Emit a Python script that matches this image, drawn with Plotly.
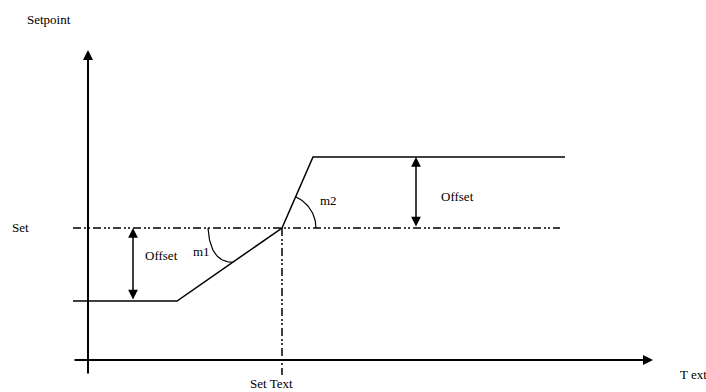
import numpy as np
import plotly.graph_objects as go

# ---- diagram data (canvas units, y measured upward) ----
t_ext = [73, 177, 282, 313, 565]          # outdoor temperature breakpoints
setpoint = [91, 91, 164, 235, 235]        # resulting setpoint
set_value = 164                            # "Set"
set_text = 282                             # "Set Text"
offset_low = [91, 164]
offset_high = [164, 235]

# ---- layout constants ----
W, H = 706, 392
FONT = dict(family="'Liberation Serif', 'DejaVu Serif', serif", size=13, color="black")
DASHDOT = "8px,3px,2px,2px,2px,3px"
origin_x, origin_y = 88, 32

fig = go.Figure()

# setpoint curve
fig.add_trace(go.Scatter(x=t_ext, y=setpoint, mode="lines",
                         line=dict(color="black", width=1.5), hoverinfo="skip"))

# Set horizontal dash-dot line
fig.add_trace(go.Scatter(x=[t_ext[0], 560], y=[set_value, set_value], mode="lines",
                         line=dict(color="black", width=1.5, dash=DASHDOT), hoverinfo="skip"))
# Set Text vertical dash-dot line
fig.add_trace(go.Scatter(x=[set_text, set_text], y=[set_value, 17], mode="lines",
                         line=dict(color="black", width=1.5, dash=DASHDOT), hoverinfo="skip"))

# m1 arc (bezier between the Set line and the lower slope)
r1_start, r1_end = 74, 60
ang1 = np.arctan2(setpoint[1] - setpoint[2], t_ext[1] - t_ext[2])
p0 = np.array([set_text - r1_start, set_value])
p2 = np.array([set_text + r1_end * np.cos(ang1), set_value + r1_end * np.sin(ang1)])
p1 = np.array([p0[0] + 2, p2[1]])
t = np.linspace(0, 1, 40)[:, None]
arc1 = (1 - t) ** 2 * p0 + 2 * t * (1 - t) * p1 + t ** 2 * p2
fig.add_trace(go.Scatter(x=arc1[:, 0], y=arc1[:, 1], mode="lines",
                         line=dict(color="black", width=1.2), hoverinfo="skip"))

# m2 arc (circle around the Set point)
r2 = 34
ang2 = np.arctan2(setpoint[3] - setpoint[2], t_ext[3] - t_ext[2])
a = np.linspace(0, ang2, 40)
fig.add_trace(go.Scatter(x=set_text + r2 * np.cos(a), y=set_value + r2 * np.sin(a), mode="lines",
                         line=dict(color="black", width=1.2), hoverinfo="skip"))

ann = []
# axes with arrows
ann.append(dict(x=origin_x, y=342, ax=origin_x, ay=17, xref="x", yref="y", axref="x", ayref="y",
                showarrow=True, arrowhead=2, arrowwidth=2, arrowsize=1, arrowcolor="black", text=""))
ann.append(dict(x=653, y=origin_y, ax=t_ext[0], ay=origin_y, xref="x", yref="y", axref="x", ayref="y",
                showarrow=True, arrowhead=2, arrowwidth=2, arrowsize=1, arrowcolor="black", text=""))
# offset double arrows
for xa, (y0, y1) in [(133, offset_low), (416, offset_high)]:
    ann.append(dict(x=xa, y=y1, ax=xa, ay=y0, xref="x", yref="y", axref="x", ayref="y",
                    showarrow=True, arrowhead=2, startarrowhead=2, arrowside="end+start",
                    arrowwidth=1.5, arrowsize=1.3, startarrowsize=1.3, arrowcolor="black", text=""))

labels = [
    ("Setpoint", 48.5, 373, "center"),
    ("Set", 20, 165, "center"),
    ("Offset", 161, 137, "center"),
    ("m1", 201.5, 141, "center"),
    ("m2", 328.5, 192, "center"),
    ("Offset", 457.5, 196, "center"),
    ("Set Text", 271, 8.5, "center"),
    ("T ext", 679, 18, "left"),
]
for txt, lx, ly, anc in labels:
    ann.append(dict(x=lx, y=ly, xref="x", yref="y", text=txt, showarrow=False,
                    xanchor=anc, yanchor="middle", font=FONT, borderpad=0))

fig.update_layout(
    width=W, height=H, autosize=False,
    margin=dict(l=0, r=0, t=0, b=0),
    paper_bgcolor="white", plot_bgcolor="white",
    showlegend=False,
    xaxis=dict(range=[0, W], visible=False, fixedrange=True),
    yaxis=dict(range=[0, H], visible=False, fixedrange=True),
    annotations=ann,
)

fig.write_html(
    "out.html",
    config={"displayModeBar": False},
    post_script="document.body.style.margin='0';document.body.style.overflow='hidden';"
                "document.documentElement.style.overflow='hidden';",
)
